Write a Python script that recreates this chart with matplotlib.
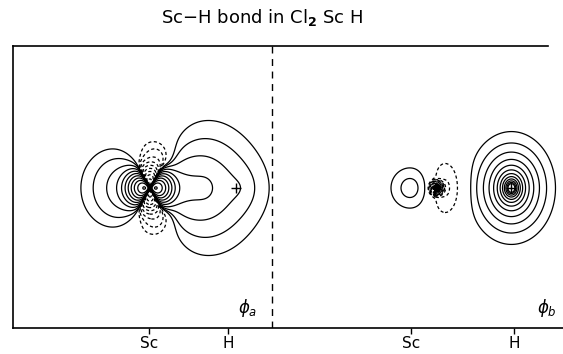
import numpy as np
import matplotlib
matplotlib.use("Agg")
import matplotlib.pyplot as plt

# ---------------- data ----------------
title_text = r"Sc$-$H bond in Cl$_{\mathbf{2}}$ Sc H"
tick_labels = ["Sc", "H", "Sc", "H"]
tick_x = [3.40, 5.375, 9.95, 12.525]          # positions of atom ticks (axis units)
divider_x = 6.475                              # dashed line between the two panels
panel_names = [r"$\phi_a$", r"$\phi_b$"]
h_marks_x = [5.575, 12.46]                     # '+' on the H nuclei

# model of orbital phi_a (Sc-H bonding): one entry per basis function
phi_a_x    = [3.425, 3.50, 4.825, 5.575, 3.65, 3.65]
phi_a_y    = [0.0, 0.0, 0.0, 0.0, 0.72, -0.72]
phi_a_amp  = [1.7e5, 70.0, 7.0, 2.4, -1.8, -1.8]
phi_a_p1   = [14.0, 3.5, 1.6, 2.2, 0.36, 0.36]
phi_a_p2   = [1.0, 1.0, 1.3, 1.0, 0.38, 0.38]
phi_a_kind = ["d", "d", "s", "s", "g", "g"]
d_s_mix = 0.3

# model of orbital phi_b (H-dominated)
phi_b_x    = [9.93, 10.82, 10.60, 12.46]
phi_b_y    = [0.0, 0.0, 0.0, 0.0]
phi_b_amp  = [2.4, -2.5, -32768.0, 1.39]
phi_b_p1   = [0.50, 0.42, 0.022, 3.1]
phi_b_p2   = [0.52, 0.75, 1.0, 1.28]
phi_b_kind = ["g", "g", "s1", "pw"]

level_base = 1.0
level_count = 12
dense_fill_level = -512.0


def basis(X, Y, x0, y0, amp, p1, p2, kind):
    dx, dy = X - x0, Y - y0
    r = np.hypot(dx, dy)
    if kind == "d":
        cos2 = dx**2 / np.maximum(r, 1e-12)**2
        return amp * (3 * cos2 - 1 + d_s_mix) * r**2 * np.exp(-p1 * r)
    if kind == "s":
        return amp * np.exp(-p1 * np.hypot(dx, dy / p2))
    if kind == "s1":
        return amp * np.exp(-r / p1)
    if kind == "g":
        return amp * np.exp(-(dx / p1)**2 - (dy / p2)**2)
    if kind == "pw":
        rho = np.hypot(dx, dy / p2) + 0.01
        return amp * rho**(-p1)
    return 0 * X


def field(X, Y, xs, ys, amps, p1s, p2s, kinds):
    Z = np.zeros_like(X)
    for x0, y0, a, p1, p2, k in zip(xs, ys, amps, p1s, p2s, kinds):
        Z += basis(X, Y, x0, y0, a, p1, p2, k)
    return Z


pos_levels = [level_base * 2**k for k in range(level_count)]
neg_levels = sorted(-v for v in pos_levels)

fig = plt.figure(figsize=(5.63, 3.54), dpi=100)
W, H = 563, 354
ax = fig.add_axes([13 / W, 1 - 328 / H, (563 - 13) / W, (328 - 46) / H])
x_max = (563 - 13) / 40
y_top, y_bot = (188 - 46) / 40, (188 - 328) / 40
ax.set_xlim(0, x_max)
ax.set_ylim(y_bot, y_top)

y = np.linspace(y_bot, y_top, 1000)
panels = [(phi_a_x, phi_a_y, phi_a_amp, phi_a_p1, phi_a_p2, phi_a_kind),
          (phi_b_x, phi_b_y, phi_b_amp, phi_b_p1, phi_b_p2, phi_b_kind)]
for (x_lo, x_hi), pars in zip([(0, divider_x), (divider_x, x_max)], panels):
    x = np.linspace(x_lo + 0.01, x_hi - 0.01, 1000)
    X, Y = np.meshgrid(x, y)
    Z = field(X, Y, *pars)
    if Z.min() < dense_fill_level:
        ax.contourf(X, Y, Z, levels=[Z.min() - 1, dense_fill_level], colors="k")
    ax.contour(X, Y, Z, levels=pos_levels, colors="k", linewidths=0.9,
               linestyles="solid")
    ax.contour(X, Y, Z, levels=neg_levels, colors="k", linewidths=0.9,
               linestyles=[(0, (2.5, 2))])

for hx in h_marks_x:
    ax.plot(hx, 0, marker="+", ms=7, mew=1.0, color="k")

ax.axvline(divider_x, color="k", lw=1.0, ls=(0, (5, 4)))

for s in ["left", "top", "bottom"]:
    ax.spines[s].set_linewidth(1.2)
ax.spines["right"].set_visible(False)
ax.spines["top"].set_bounds(0, (548 - 13) / 40)

ax.set_xticks(tick_x, tick_labels)
ax.set_yticks([])
ax.tick_params(axis="x", direction="out", length=4, width=1, labelsize=11, pad=2)

ax.text((248 - 13) / 40, (188 - 308) / 40, panel_names[0], fontsize=12,
        ha="center", va="center")
ax.text((547 - 13) / 40, (188 - 308) / 40, panel_names[1], fontsize=12,
        ha="center", va="center")

fig.text(262 / W, 1 - 18 / H, title_text, ha="center", va="center", fontsize=13)

fig.savefig("out.png", dpi=100)
